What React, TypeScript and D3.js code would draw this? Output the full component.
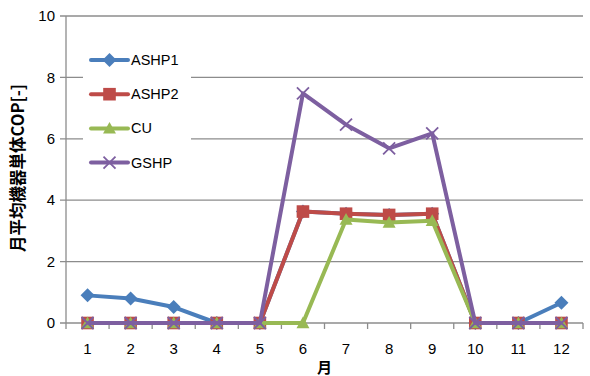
import React from "react";
import * as d3 from "d3";

const months = ["1", "2", "3", "4", "5", "6", "7", "8", "9", "10", "11", "12"];
const ashp1 = [0.9, 0.8, 0.52, 0, 0, 3.63, 3.56, 3.52, 3.56, 0, 0, 0.66];
const ashp2 = [0, 0, 0, 0, 0, 3.63, 3.56, 3.52, 3.56, 0, 0, 0];
const cu = [0, 0, 0, 0, 0, 0, 3.37, 3.27, 3.33, 0, 0, 0];
const gshp = [0, 0, 0, 0, 0, 7.48, 6.46, 5.69, 6.18, 0, 0, 0];
const yTicks = [0, 2, 4, 6, 8, 10];

const seriesNames = ["ASHP1", "ASHP2", "CU", "GSHP"];
const seriesValues = [ashp1, ashp2, cu, gshp];
const seriesColors = ["#4a7ebb", "#be4b48", "#98b954", "#7d5fa0"];
const seriesMarkers = ["diamond", "square", "triangle", "x"];

const W = 590;
const H = 376;
const left = 66;
const right = 583;
const top = 16;
const bottom = 323;
const font = "'Liberation Sans', Arial, sans-serif";

function Marker({ kind, x, y, color }: { kind: string; x: number; y: number; color: string }) {
  if (kind === "diamond") {
    const s = 7;
    return <path d={`M${x},${y - s}L${x + s},${y}L${x},${y + s}L${x - s},${y}Z`} fill={color} />;
  }
  if (kind === "square") {
    const s = 6.3;
    return <rect x={x - s} y={y - s} width={2 * s} height={2 * s} fill={color} />;
  }
  if (kind === "triangle") {
    const s = 6.5;
    return <path d={`M${x},${y - s}L${x + s},${y + s * 0.8}L${x - s},${y + s * 0.8}Z`} fill={color} />;
  }
  const s = 6;
  return (
    <path
      d={`M${x - s},${y - s}L${x + s},${y + s}M${x - s},${y + s}L${x + s},${y - s}`}
      stroke={color}
      strokeWidth={1.8}
    />
  );
}

export default function App() {
  const x = d3.scaleBand<string>().domain(months).range([left, right]);
  const y = d3.scaleLinear().domain([0, 10]).range([bottom, top]);
  const cx = (m: string) => (x(m) as number) + x.bandwidth() / 2;
  const line = d3
    .line<number>()
    .x((_, i) => cx(months[i]))
    .y((v) => y(v));

  const grid = "#8c8c8c";
  const boundaries = months.map((m) => x(m) as number).concat([right]);

  return (
    <svg width={W} height={H} style={{ position: "absolute", left: 0, top: 0, background: "#fff" }}>
      {/* horizontal gridlines and y ticks */}
      {yTicks.map((t) => (
        <g key={t}>
          <line x1={left - 6} x2={right} y1={y(t)} y2={y(t)} stroke={grid} strokeWidth={1.3} />
          <text x={left - 11} y={y(t)} dy="0.35em" textAnchor="end" fontFamily={font} fontSize={15} fill="#000">
            {t}
          </text>
        </g>
      ))}
      {/* y axis line */}
      <line x1={left} x2={left} y1={top} y2={bottom} stroke={grid} strokeWidth={1.3} />
      {/* x axis ticks */}
      {boundaries.map((b, i) => (
        <line key={i} x1={b} x2={b} y1={bottom} y2={bottom + 6} stroke={grid} strokeWidth={1.3} />
      ))}
      {months.map((m) => (
        <text key={m} x={cx(m)} y={354} textAnchor="middle" fontFamily={font} fontSize={15} fill="#000">
          {m}
        </text>
      ))}

      {/* legend background */}
      <rect x={83} y={44} width={108} height={134} fill="#fff" />

      {/* series */}
      {seriesValues.map((vals, si) => (
        <g key={seriesNames[si]}>
          <path d={line(vals) || ""} fill="none" stroke={seriesColors[si]} strokeWidth={4} strokeLinejoin="round" />
          {vals.map((v, i) => (
            <Marker key={i} kind={seriesMarkers[si]} x={cx(months[i])} y={y(v)} color={seriesColors[si]} />
          ))}
        </g>
      ))}

      {/* legend */}
      {seriesNames.map((n, i) => {
        const ly = 60 + i * 34.2;
        return (
          <g key={n}>
            <line x1={91} x2={128} y1={ly} y2={ly} stroke={seriesColors[i]} strokeWidth={4} strokeLinecap="round" />
            <Marker kind={seriesMarkers[i]} x={109.5} y={ly} color={seriesColors[i]} />
            <text x={131} y={ly} dy="0.35em" fontFamily={font} fontSize={14.5} fill="#000">
              {n}
            </text>
          </g>
        );
      })}

      {/* axis titles */}
      <text
        transform={`translate(24,168) rotate(-90)`}
        textAnchor="middle"
        fontFamily="'Noto Sans CJK JP', sans-serif"
        fontWeight="bold"
        fontSize={16.5}
        fill="#000"
      >
        月平均機器単体COP[-]
      </text>
      <text
        x={(left + right) / 2}
        y={373}
        textAnchor="middle"
        fontFamily="'Noto Sans CJK JP', sans-serif"
        fontWeight="bold"
        fontSize={15}
        fill="#000"
      >
        月
      </text>
    </svg>
  );
}
